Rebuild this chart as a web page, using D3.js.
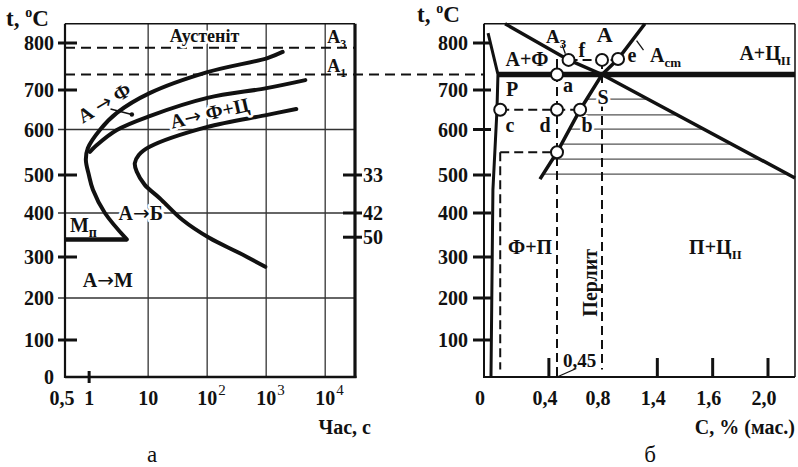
<!DOCTYPE html>
<html>
<head>
<meta charset="utf-8">
<title>Ізотермічне перетворення аустеніту</title>
<script src="https://cdnjs.cloudflare.com/ajax/libs/d3/7.8.5/d3.min.js"></script>
<style>
  body { margin: 0; background: #fff; }
  svg text { font-family: "Liberation Serif", "Times New Roman", serif; font-weight: bold; fill: #111; }
  .halo { paint-order: stroke; stroke: #fff; stroke-width: 5px; stroke-linejoin: round; }
  .arrow { font-family: "DejaVu Sans", sans-serif; font-weight: normal; }
</style>
</head>
<body>
<div id="chart"></div>
<script>
// ---------- data ----------
const tempTicks = [0, 100, 200, 300, 400, 500, 600, 700, 800];
const tempGrid = [200, 400, 600];
const tempTop = 841;

// (a) isothermal diagram, time in s
const timeTicks = [1, 10, 100, 1000, 10000];
const timeTickLabels = ["1", "10", "10^2", "10^3", "10^4"];
const timeGrid = [10, 100, 1000, 10000];
const hardnessTemps = [500, 400, 345];
const hardnessLabels = ["33", "42", "50"];
const A3 = 790, A1 = 733, Ms = 340;
const ferriteStart = [[1900, 781], [1050, 768], [101, 738], [10.6, 692], [2.95, 642], [1.52, 599],
  [0.95, 559], [0.88, 533], [0.99, 500], [1.16, 461], [1.85, 400], [4.35, 340]];
const pearliteStart = [[4610, 721], [1016, 704], [101, 680], [10.6, 634], [2.95, 599], [1.35, 566], [1.03, 551]];
const transformEnd = [[3236, 652], [1047, 637], [97.7, 606], [10.6, 562], [6.94, 544], [5.94, 526],
  [6.42, 507], [8.76, 474], [15.7, 439], [38.4, 384], [110, 343], [352, 309], [968, 276]];

// (б) Fe–C steel corner, carbon in % (mass)
const carbonTicks = [0, 0.4, 0.8, 1.2, 1.6, 2.0];
const carbonTickLabels = ["0", "0,4", "0,8", "1,4", "1,6", "2,0"];
const carbonTickMarks = [0.4, 1.2, 1.6, 2.0];
const gpLine = [[0.025, 821], [0.086, 733], [0.08, 650], [0.055, 461], [0.043, 0]];
const gsLine = [[0.13, 841], [0.54, 764], [0.8, 733], [2.2, 492]];
const seLine = [[1.11, 841], [0.916, 766], [0.8, 733], [0.63, 650], [0.45, 550], [0.345, 489]];
const eutectoid = [[0.086, 733], [2.2, 733]];
const hatchTemps = [677, 637, 601, 568, 535, 502];
const keyPoints = [[0.54, 764], [0.8, 764], [0.916, 766], [0.45, 733], [0.1, 650], [0.45, 650], [0.63, 650], [0.45, 550]];
const dashedLines = [
  [[0.1, 550], [0.1, 20]],
  [[0.45, 766], [0.45, 0]],
  [[0.8, 764], [0.8, 20]],
  [[0.54, 764], [0.916, 764]],
  [[0.1, 650], [0.63, 650]],
  [[0.1, 550], [0.45, 550]]
];

// ---------- layout ----------
const W = 798, H = 467;
const svg = d3.select("#chart").append("svg").attr("width", W).attr("height", H);

// the scanned figure has uneven spacing between the temperature ticks
const yT = d3.scaleLinear().domain(tempTicks).range([377, 340, 298, 257, 213, 175, 129.5, 90, 43]);
const xTime = d3.scaleLog().domain([0.39, 32000]).range([65, 355]);
const xC = d3.scaleLinear().domain([0, 0.45, 0.8, 2.0, 2.2]).range([484, 557, 602, 768, 795]);

function seg(g, x1, y1, x2, y2, w, dash) {
  const l = g.append("line").attr("x1", x1).attr("y1", y1).attr("x2", x2).attr("y2", y2)
    .attr("stroke", "#111").attr("stroke-width", w);
  if (dash) l.attr("stroke-dasharray", dash);
  return l;
}
function label(g, x, y, txt, size, anchor) {
  const t = g.append("text").attr("x", x).attr("y", y).attr("font-size", size)
    .attr("text-anchor", anchor || "middle");
  String(txt).split("→").forEach((part, i) => {
    if (i > 0) t.append("tspan").attr("class", "arrow").text("→");
    if (part) t.append("tspan").text(part);
  });
  return t;
}
function sub(t, s, size) {
  t.append("tspan").attr("dy", 5).attr("font-size", size || 12).text(s);
  return t;
}
function degTitle(g, x, y) {
  const t = g.append("text").attr("x", x).attr("y", y).attr("font-size", 23).text("t, ");
  t.append("tspan").attr("dy", -9).attr("font-size", 14).text("o");
  t.append("tspan").attr("dy", 9).text("C");
}

// ================= (a) =================
const ga = svg.append("g");
const tL = xTime.domain()[0], tR = xTime.domain()[1];

// grid
tempGrid.forEach(t => seg(ga, 58, yT(t), xTime(tR), yT(t), 1.3).attr("stroke", "#333"));
timeGrid.forEach(t => seg(ga, xTime(t), yT(tempTop), xTime(t), yT(0), 1.3).attr("stroke", "#333"));

// frame
seg(ga, xTime(tL), yT(tempTop), xTime(tR), yT(tempTop), 1.5);
seg(ga, xTime(tL), yT(tempTop), xTime(tL), yT(0) + 1, 2.2);
seg(ga, xTime(tL), yT(0), xTime(tR) + 1.5, yT(0), 2.6);
seg(ga, xTime(tR), yT(tempTop), xTime(tR), yT(0) + 1, 3.2);

// y ticks and labels
tempTicks.filter(t => t > 0 && !tempGrid.includes(t))
  .forEach(t => seg(ga, 58, yT(t), 77, yT(t), 3));
tempTicks.forEach(t => label(ga, 54, yT(t) + 7, t, 20, "end"));
// hardness on the right
hardnessTemps.forEach((t, i) => {
  seg(ga, xTime(tR) - 12, yT(t), xTime(tR) + 7, yT(t), 3);
  label(ga, 363, yT(t) + 7, hardnessLabels[i], 20, "start");
});

// x ticks
seg(ga, xTime(1), yT(0) - 6, xTime(1), yT(0) + 6, 3);
label(ga, xTime(tL) - 3, 405, "0,5", 20);
timeTicks.forEach((t, i) => {
  const [b, p] = timeTickLabels[i].split("^");
  label(ga, xTime(t), 405, b, 20);
  if (p) label(ga, xTime(t) + 11, 395, p, 15, "start").style("font-weight", "normal");
});
label(ga, 371, 434, "Час, с", 20, "end");
label(ga, 152, 462, "а", 23).style("font-weight", "normal");
degTitle(ga, 6, 26);

// critical points
seg(ga, xTime(tL), yT(A3), xTime(tR), yT(A3), 2, "10,6");
seg(ga, xTime(tL), yT(A1), xC(0), yT(A1), 2, "10,6");
sub(label(ga, xTime(10800), yT(800), "A", 18, "start"), "3");
sub(label(ga, xTime(10800), yT(738), "A", 18, "start"), "1");

// curves
const lineT = d3.line().x(d => xTime(d[0])).y(d => yT(d[1])).curve(d3.curveCatmullRom.alpha(0.5));
[ferriteStart, pearliteStart, transformEnd].forEach(c =>
  ga.append("path").attr("d", lineT(c)).attr("fill", "none").attr("stroke", "#111")
    .attr("stroke-width", 4).attr("stroke-linecap", "round"));
seg(ga, xTime(tL), yT(Ms), xTime(ferriteStart[ferriteStart.length - 1][0]), yT(Ms), 4.5);

// region labels
label(ga, xTime(90), yT(802), "Аустеніт", 18).attr("class", "halo");
label(ga, 0, 0, "А → Ф", 20).attr("class", "halo").attr("dominant-baseline", "central")
  .attr("transform", `translate(${xTime(1.8)},${yT(668)}) rotate(-31)`);
seg(ga, xTime(2.3), yT(652), xTime(5.3), yT(638), 1.5);
ga.append("circle").attr("cx", xTime(5.3)).attr("cy", yT(638)).attr("r", 2.2).attr("fill", "#111");
label(ga, 0, 0, "А→ Ф+Ц", 20).attr("class", "halo").attr("dominant-baseline", "central")
  .attr("transform", `translate(${xTime(110)},${yT(642)}) rotate(-13)`);
label(ga, xTime(7.5), yT(400) + 7, "А→Б", 20).attr("class", "halo");
sub(label(ga, xTime(0.8), yT(370) + 6, "М", 20), "п", 14);
label(ga, xTime(2.08), yT(244) + 7, "А→М", 20);

// ================= (б) =================
const gb = svg.append("g");
const cR = xC.domain()[xC.domain().length - 1];
const px = pts => pts.map(d => [xC(d[0]), yT(d[1])]);
const lineC = d3.line();

// frame
seg(gb, xC(0), yT(tempTop), xC(cR), yT(tempTop), 1.5);
seg(gb, xC(cR), yT(tempTop), xC(cR), yT(0), 1.5);
seg(gb, xC(0), yT(tempTop), xC(0), yT(0) + 1, 2);
seg(gb, xC(0), yT(0), xC(cR), yT(0), 2.2);

// y ticks
tempTicks.filter(t => t > 0).forEach(t => {
  seg(gb, xC(0) - 11, yT(t), xC(0) + 7, yT(t), 3);
  label(gb, 468, yT(t) + 7, t, 20, "end");
});
// x ticks
carbonTickMarks.forEach(c => seg(gb, xC(c), yT(0) - 19, xC(c), yT(0), 3));
carbonTicks.forEach((c, i) => label(gb, xC(c) - 4, 405, carbonTickLabels[i], 20));
label(gb, 795, 434, "C, % (мас.)", 20, "end");
label(gb, 650, 462, "б", 23).style("font-weight", "normal");
degTitle(gb, 417, 22);

// hatching between SE and the extension of GS
function xAt(pts, y) {
  for (let i = 0; i < pts.length - 1; i++) {
    const [x0, y0] = pts[i], [x1, y1] = pts[i + 1];
    if ((y - y0) * (y - y1) <= 0) return x0 + (x1 - x0) * (y - y0) / (y1 - y0);
  }
  return null;
}
const sePx = px(seLine), gsPx = px(gsLine);
hatchTemps.forEach(t => {
  const y = yT(t);
  seg(gb, xAt(sePx, y), y, Math.min(xAt(gsPx, y), xC(cR)), y, 1.3).attr("stroke", "#555");
});

// dashed construction lines
dashedLines.forEach(d => gb.append("path").attr("d", lineC(px(d))).attr("fill", "none")
  .attr("stroke", "#111").attr("stroke-width", 2).attr("stroke-dasharray", "9,5"));

// phase lines
gb.append("path").attr("d", lineC(px(gpLine))).attr("fill", "none").attr("stroke", "#111").attr("stroke-width", 3);
gb.append("path").attr("d", lineC(gsPx)).attr("fill", "none").attr("stroke", "#111").attr("stroke-width", 3.5);
gb.append("path").attr("d", lineC(sePx)).attr("fill", "none").attr("stroke", "#111").attr("stroke-width", 3.5);
gb.append("path").attr("d", lineC(px(eutectoid))).attr("fill", "none").attr("stroke", "#111").attr("stroke-width", 5.5);

// labels
label(gb, xC(0.265), yT(751), "А+Ф", 20);
label(gb, xC(0.82), yT(802), "А", 22);
sub(label(gb, xC(0.382), yT(800), "А", 19, "start"), "3", 13);
seg(gb, xC(0.49), yT(796), xC(0.515), yT(777), 1.3);
label(gb, xC(0.644), yT(770), "f", 20);
label(gb, xC(1.017), yT(760), "e", 20);
sub(label(gb, xC(1.147), yT(760), "А", 20, "start"), "cm", 13);
seg(gb, xC(1.05), yT(805), xC(1.1), yT(785), 1.3);
sub(label(gb, xC(2.17), yT(764), "А+Ц", 20, "end"), "II", 13);
label(gb, xC(0.173), yT(685), "P", 20);
label(gb, xC(0.536), yT(695), "a", 20);
label(gb, xC(0.807), yT(664), "S", 20).attr("class", "halo");
label(gb, xC(0.16), yT(594), "c", 20);
label(gb, xC(0.376), yT(594), "d", 20);
label(gb, xC(0.683), yT(594), "b", 20).attr("class", "halo");
label(gb, xC(0.284), yT(307), "Ф+П", 20);
sub(label(gb, xC(1.62), yT(307), "П+Ц", 20), "II", 13);
label(gb, 0, 0, "Перлит", 20).attr("dominant-baseline", "central")
  .attr("transform", `translate(${xC(0.707)},${yT(237)}) rotate(-90)`);
label(gb, xC(0.497), yT(28), "0,45", 19, "start");
seg(gb, xC(0.45), yT(0), xC(0.6), yT(23), 1.3);

// key points
gb.selectAll("circle.pt").data(keyPoints).join("circle").attr("class", "pt")
  .attr("cx", d => xC(d[0])).attr("cy", d => yT(d[1])).attr("r", 6)
  .attr("fill", "#fff").attr("stroke", "#111").attr("stroke-width", 2);
</script>
</body>
</html>
